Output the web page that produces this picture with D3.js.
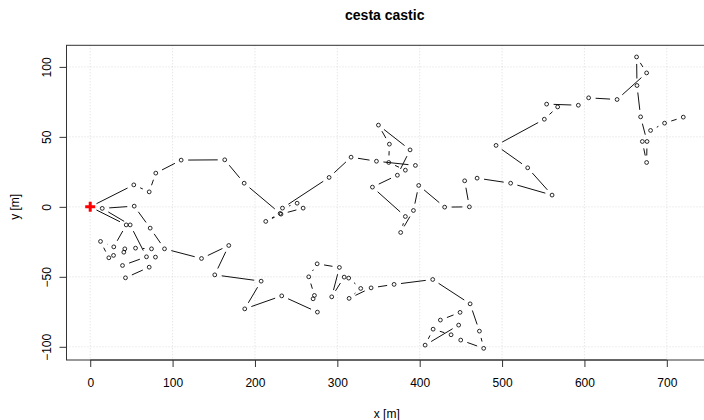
<!DOCTYPE html>
<html>
<head>
<meta charset="utf-8">
<script src="https://cdn.jsdelivr.net/npm/d3@7/dist/d3.min.js"></script>
<style>
  body { margin: 0; background: #fff; }
  svg text { font-family: "Liberation Sans", Arial, Helvetica, sans-serif; fill: #000; }
</style>
</head>
<body>
<svg id="chart" width="704" height="420"></svg>
<script>
// particle 1 path [m]
var p1X = [0, 52.9, 71.6, 79.6, 110.4, 163.3, 186.9, 230.6, 213.1, 231.6, 258.5, 251.2, 233.4, 290.0,
  316.7, 347.5, 394.8, 382.6, 362.4, 363.2, 349.9, 388.3, 372.9, 342.6, 382.6, 376.9, 392.4, 398.8,
  430.3, 460.3, 454.6, 469.7, 510.4, 560.7, 531.1, 492.7, 551.3, 567.5, 554.1, 592.6, 605.1, 639.6,
  675.5, 663.3, 663.8, 668.2, 676.0, 675.5, 670.3, 680.3, 697.3, 720.0];
var p1Y = [0, 15.7, 10.7, 24.1, 33.4, 33.6, 16.9, -4.7, -10.4, -5.2, -0.9, 2.6, -0.9, 21.0,
  35.5, 32.6, 29.6, 26.2, 31.7, 44.8, 58.4, 40.7, 22.6, 14.1, -6.9, -18.3, -2.6, 15.3,
  -0.2, 0, 18.6, 20.5, 16.9, 8.4, 27.9, 43.9, 62.6, 71.4, 73.4, 72.6, 77.9, 76.7,
  95.7, 107.1, 86.7, 64.3, 46.7, 31.7, 46.7, 54.6, 59.8, 64.1];

// particle 2 path [m]
var p2X = [0, 43.7, 28.6, 12.5, 22.6, 28.3, 42.0, 40.8, 55.0, 74.4, 79.2, 71.6, 42.8, 39.2, 68.3,
  48.5, 14.6, 53.4, 72.8, 90.2, 135.1, 168.2, 151.2, 207.5, 187.6, 232.5, 275.8, 270.6, 272.2,
  265.3, 275.5, 302.5, 293.2, 308.3, 313.8, 328.4, 314.3, 341.0, 368.9, 415.8, 461.2, 472.5,
  477.7, 449.8, 438.1, 416.3, 406.6, 447.3, 449.0, 425.1];
var p2Y = [0, -12.9, -28.6, -24.7, -36.4, -34.7, -30.0, -32.4, -29.5, -30.0, -35.9, -43.1, -50.7, -41.9, -35.7,
  -12.9, -1.1, 0.5, -15.2, -30.0, -36.9, -27.6, -48.6, -53.1, -72.9, -63.6, -75.2, -65.7, -63.3,
  -50.0, -40.7, -43.3, -64.3, -50.2, -50.9, -58.3, -65.4, -57.9, -55.4, -51.9, -69.3, -88.8,
  -101.1, -95.2, -91.4, -87.4, -98.8, -84.5, -75.4, -80.9];

var startX = 0, startY = 0;
var xTicks = [0, 100, 200, 300, 400, 500, 600, 700];
var yTicks = [-100, -50, 0, 50, 100];

var svg = d3.select("#chart");
var plotLeft = 66.5, plotRight = 707, plotTop = 45.3, plotBottom = 360;

var paths = [d3.zip(p1X, p1Y), d3.zip(p2X, p2Y)];
var allX = p1X.concat(p2X), allY = p1Y.concat(p2Y);

// R style 4% padding
var xExt = d3.extent(allX), yExt = d3.extent(allY);
var xPad = (xExt[1] - xExt[0]) * 0.04, yPad = (yExt[1] - yExt[0]) * 0.04;
var xScale = d3.scaleLinear().domain([xExt[0] - xPad, xExt[1] + xPad]).range([plotLeft, plotRight]);
var yScale = d3.scaleLinear().domain([yExt[0] - yPad, yExt[1] + yPad]).range([plotBottom, plotTop]);

//grid
svg.append("g").selectAll("line").data(xTicks).enter().append("line")
  .attr("x1", function(d) { return xScale(d); }).attr("x2", function(d) { return xScale(d); })
  .attr("y1", plotTop).attr("y2", plotBottom)
  .attr("stroke", "#d3d3d3").attr("stroke-width", 0.8).attr("stroke-dasharray", "1,2");
svg.append("g").selectAll("line").data(yTicks).enter().append("line")
  .attr("y1", function(d) { return yScale(d); }).attr("y2", function(d) { return yScale(d); })
  .attr("x1", plotLeft).attr("x2", plotRight)
  .attr("stroke", "#d3d3d3").attr("stroke-width", 0.8).attr("stroke-dasharray", "1,2");

//type = "b": segments with a gap round each point
var gap = 7;
paths.forEach(function(pts) {
  var segs = [];
  for (var i = 1; i < pts.length; i++) {
    var x1 = xScale(pts[i-1][0]), y1 = yScale(pts[i-1][1]);
    var x2 = xScale(pts[i][0]), y2 = yScale(pts[i][1]);
    var len = Math.sqrt((x2-x1)*(x2-x1) + (y2-y1)*(y2-y1));
    if (len > 2 * gap) {
      var ux = (x2-x1)/len, uy = (y2-y1)/len;
      segs.push([x1 + ux*gap, y1 + uy*gap, x2 - ux*gap, y2 - uy*gap]);
    }
  }
  svg.append("g").selectAll("line").data(segs).enter().append("line")
    .attr("x1", function(d) { return d[0]; }).attr("y1", function(d) { return d[1]; })
    .attr("x2", function(d) { return d[2]; }).attr("y2", function(d) { return d[3]; })
    .attr("stroke", "#111").attr("stroke-width", 1);

  svg.append("g").selectAll("circle").data(pts.slice(1)).enter().append("circle")
    .attr("cx", function(d) { return xScale(d[0]); })
    .attr("cy", function(d) { return yScale(d[1]); })
    .attr("r", 1.9)
    .attr("fill", "none").attr("stroke", "#111").attr("stroke-width", 0.9);
});

//start cross
var cx = xScale(startX), cy = yScale(startY);
svg.append("path")
  .attr("d", "M" + (cx-5) + "," + cy + "H" + (cx+5) + "M" + cx + "," + (cy-5) + "V" + (cy+5))
  .attr("stroke", "#ff0000").attr("stroke-width", 3).attr("fill", "none");

//box
svg.append("rect").attr("x", plotLeft).attr("y", plotTop)
  .attr("width", plotRight - plotLeft).attr("height", plotBottom - plotTop)
  .attr("fill", "none").attr("stroke", "#333").attr("stroke-width", 1);

//axes
var xAxis = svg.append("g").attr("transform", "translate(0," + plotBottom + ")")
  .call(d3.axisBottom(xScale).tickValues(xTicks).tickSize(7).tickPadding(11).tickFormat(d3.format("d")));
var yAxis = svg.append("g").attr("transform", "translate(" + plotLeft + ",0)")
  .call(d3.axisLeft(yScale).tickValues(yTicks).tickSize(7).tickFormat(d3.format("d")));
[xAxis, yAxis].forEach(function(a) {
  a.select(".domain").attr("stroke", "#333");
  a.selectAll(".tick line").attr("stroke", "#333");
  a.selectAll("text").style("font-size", "12px").style("font-family", "Liberation Sans, Arial, sans-serif").attr("fill", "#000");
});
xAxis.select(".domain").attr("d", "M" + xScale(0) + ",0H" + xScale(700));
yAxis.select(".domain").attr("d", "M0," + yScale(-100) + "V" + yScale(100));
yAxis.selectAll(".tick text")
  .attr("x", 0).attr("dy", null)
  .attr("text-anchor", "middle")
  .attr("transform", "translate(-20,0) rotate(-90)")
  .attr("dominant-baseline", "central");

//titles
svg.append("text").attr("x", (plotLeft + plotRight) / 2 - 2).attr("y", 20)
  .attr("text-anchor", "middle").style("font-size", "14px").style("font-weight", "bold")
  .text("cesta castic");
svg.append("text").attr("x", (plotLeft + plotRight) / 2).attr("y", 418)
  .attr("text-anchor", "middle").style("font-size", "12px").text("x [m]");
svg.append("text").attr("transform", "translate(19," + yScale(0) + ") rotate(-90)")
  .attr("text-anchor", "middle").style("font-size", "12px").text("y [m]");
</script>
</body>
</html>
